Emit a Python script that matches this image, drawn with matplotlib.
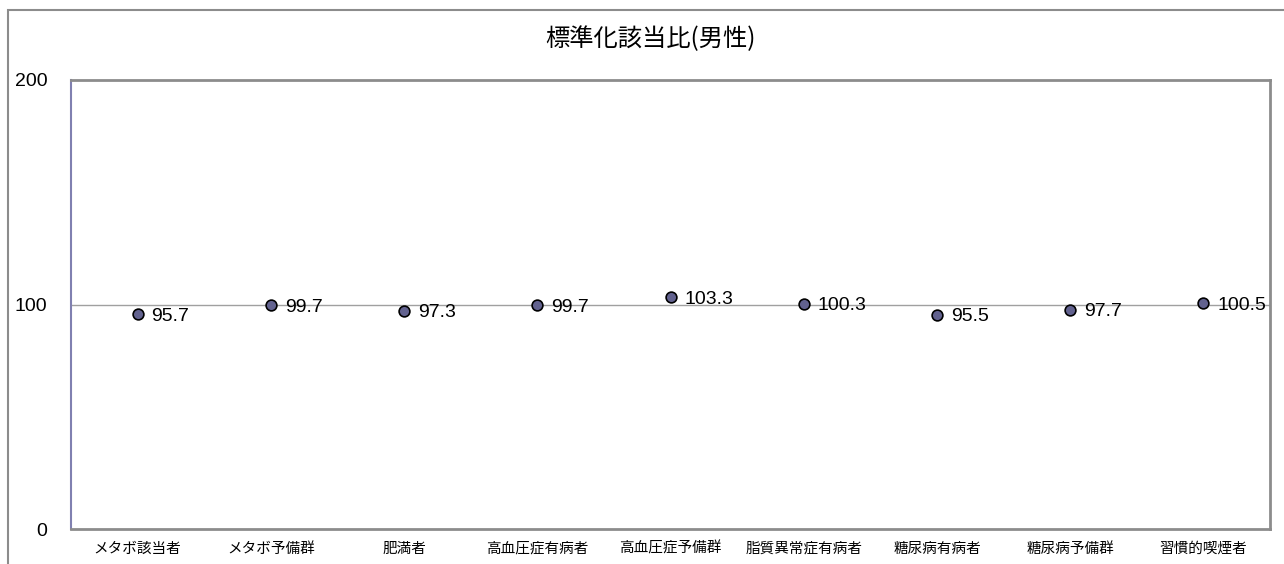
import matplotlib
matplotlib.use("Agg")
import matplotlib.pyplot as plt
from matplotlib.patches import Rectangle

plt.rcParams['font.family'] = ['Noto Sans CJK JP', 'DejaVu Sans']
NUM_FONT = ['Liberation Sans', 'DejaVu Sans']

title = "標準化該当比(男性)"
categories = ["メタボ該当者", "メタボ予備群", "肥満者", "高血圧症有病者", "高血圧症予備群",
              "脂質異常症有病者", "糖尿病有病者", "糖尿病予備群", "習慣的喫煙者"]
values = [95.7, 99.7, 97.3, 99.7, 103.3, 100.3, 95.5, 97.7, 100.5]
yticks = [0, 100, 200]

W, H = 1284, 564
fig = plt.figure(figsize=(W / 100, H / 100), dpi=100)

# outer chart frame
fig.patches.append(Rectangle((8 / W, -0.1), 1.2, 1 - 10 / H + 0.1, transform=fig.transFigure,
                             fill=False, edgecolor="#8c8c8c", linewidth=1.5))

left, top, right, bottom = 71, 80, 1270, 529
ax = fig.add_axes([left / W, 1 - bottom / H, (right - left) / W, (bottom - top) / H])

x = list(range(len(categories)))
ax.scatter(x, values, s=60, facecolor="#62628f", edgecolor="black", linewidth=1.2, zorder=3)
for xi, v in zip(x, values):
    ax.annotate(f"{v}", (xi, v), xytext=(10, -1.5), textcoords="offset points",
                ha="left", va="center", fontsize=14, color="black", zorder=4,
                family=NUM_FONT)

ax.set_xlim(-0.5, len(categories) - 0.5)
ax.set_ylim(0, 200)
ax.set_yticks(yticks)
ax.set_yticklabels([str(t) for t in yticks], fontsize=14, family=NUM_FONT)
ax.set_xticks(x)
ax.set_xticklabels(categories, fontsize=10.5)
ax.tick_params(axis="both", length=0)
ax.tick_params(axis="y", pad=17)
ax.tick_params(axis="x", pad=9)
ax.axhline(100, color="#a0a0a0", linewidth=1, zorder=1)

for side in ["top", "right", "bottom"]:
    ax.spines[side].set_color("#8c8c8c")
    ax.spines[side].set_linewidth(2)
ax.spines["left"].set_color("#8080b0")
ax.spines["left"].set_linewidth(1.5)

fig.text(651 / W, 1 - 39 / H, title, ha="center", va="center", fontsize=17.5)

fig.savefig("out.png", dpi=100)
